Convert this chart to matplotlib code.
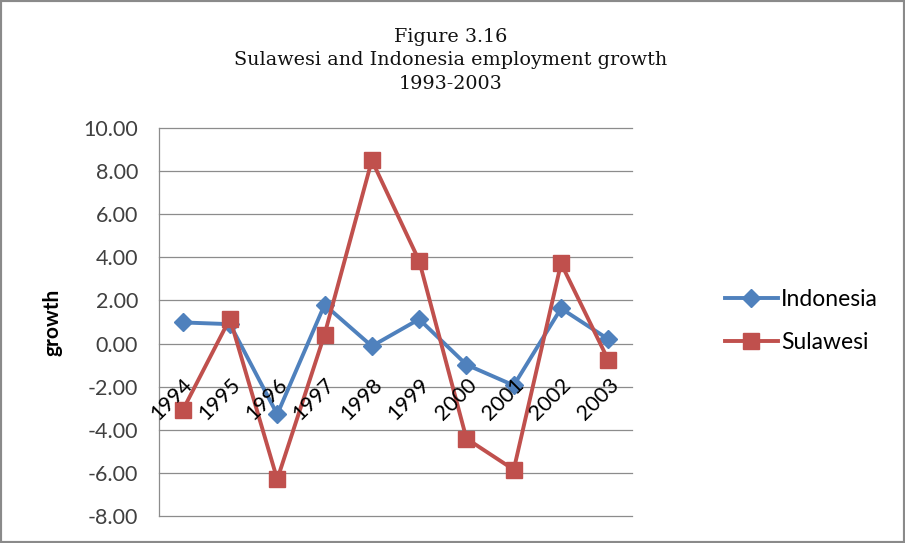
import matplotlib
matplotlib.use('Agg')
import matplotlib.pyplot as plt
from matplotlib.patches import Rectangle

years = ['1994', '1995', '1996', '1997', '1998', '1999', '2000', '2001', '2002', '2003']
indonesia = [0.98, 0.90, -3.28, 1.80, -0.12, 1.13, -0.98, -1.94, 1.63, 0.20]
sulawesi = [-3.10, 1.16, -6.30, 0.42, 8.50, 3.84, -4.41, -5.85, 3.72, -0.77]
yticks = [-8, -6, -4, -2, 0, 2, 4, 6, 8, 10]

BLUE = '#4F81BD'
RED = '#C0504D'
GRID = '#8C8C8C'
FONT = 'Lato'

W, H = 905, 543
fig = plt.figure(figsize=(W / 100, H / 100), dpi=100)
ax = fig.add_axes([159 / W, 1 - 516 / H, (632 - 159) / W, (516 - 128) / H])

x = list(range(len(years)))
ax.plot(x, indonesia, color=BLUE, lw=2.8, marker='D', ms=9, label='Indonesia', zorder=3)
ax.plot(x, sulawesi, color=RED, lw=2.8, marker='s', ms=12, label='Sulawesi', zorder=3)

ax.set_xlim(-0.5, len(years) - 0.5)
ax.set_ylim(-8, 10)
ax.set_yticks(yticks)
ax.set_yticklabels([f'{v:.2f}' for v in yticks], fontsize=15.5, family=FONT, color='#404040')
ax.set_xticks([])
ax.tick_params(axis='y', length=0, pad=15)
for v in yticks:
    ax.axhline(v, color=GRID, lw=0.9, zorder=1, clip_on=False)
for s in ['top', 'right', 'bottom']:
    ax.spines[s].set_visible(False)
ax.spines['left'].set_color(GRID)
ax.spines['left'].set_linewidth(0.9)

# category labels sit on the zero line, rotated
for i, yr in enumerate(years):
    ax.annotate(yr, xy=(i, 0), xytext=(0, -31), textcoords='offset pixels',
                rotation=45, rotation_mode='anchor', ha='right', va='top',
                fontsize=15.5, family=FONT, color='black')

fig.text(52 / W, 1 - 322 / H, 'growth', rotation=90, ha='center', va='center',
         fontsize=15, fontweight='bold', family=FONT)

for txt, yp in [('Figure 3.16', 37), ('Sulawesi and Indonesia employment growth', 60),
                ('1993-2003', 84)]:
    fig.text(451 / W, 1 - yp / H, txt, ha='center', va='center', fontsize=13.8,
             family='DejaVu Serif', color='#111111')

fig.legend(loc='center left', bbox_to_anchor=(725 / W, 1 - 321 / H), frameon=False,
           prop={'family': FONT, 'size': 16.5}, handlelength=2.3, handletextpad=0.15,
           labelspacing=0.95, borderpad=0, borderaxespad=0)

fig.patches.append(Rectangle((0, 0), 1, 1, transform=fig.transFigure, fill=False,
                             edgecolor='#8a8a8a', lw=3, zorder=10))

fig.savefig('out.png', dpi=100)
